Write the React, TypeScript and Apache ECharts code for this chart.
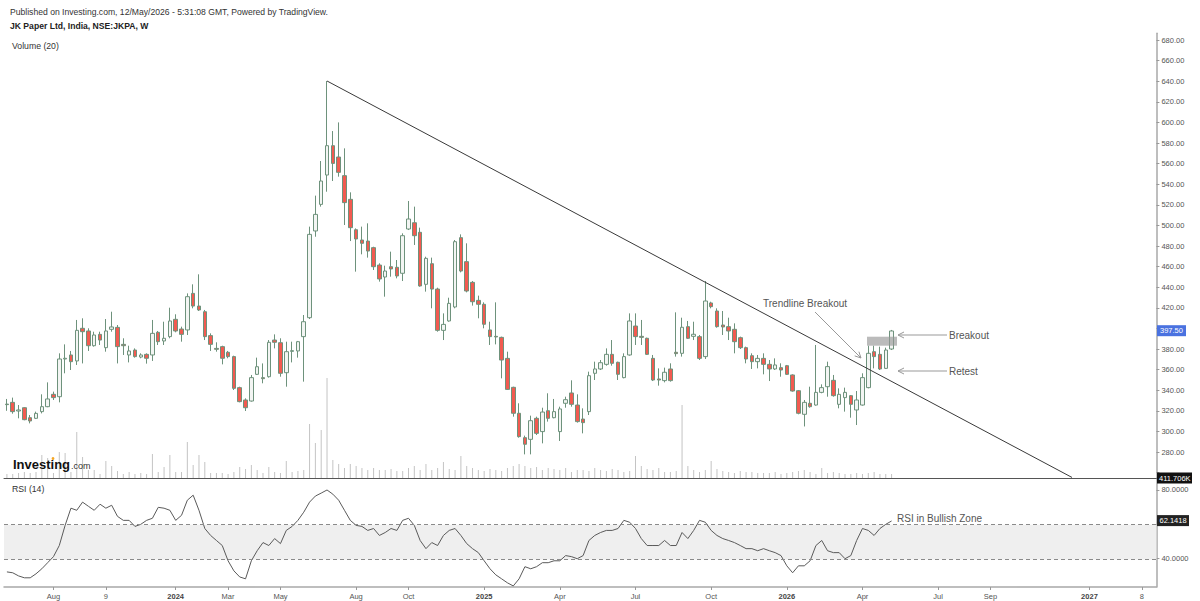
import React, { useEffect, useRef } from 'react';
import * as echarts from 'echarts';

// ---- weekly OHLC (JK Paper, NSE:JKPA) ----
const opens = [326.5,328.2,319.8,323.0,313.3,312.7,319.2,324.0,336.0,333.7,370.3,374.2,368.4,400.1,397.5,383.2,394.2,381.3,399.1,401.0,384.5,374.2,379.0,372.2,374.8,374.2,396.2,387.8,392.0,408.8,399.4,398.5,434.0,421.7,416.2,393.0,380.6,382.3,376.8,372.6,342.5,330.5,329.5,355.4,352.2,353.1,388.7,386.1,357.0,377.7,378.1,392.0,410.4,494.6,520.4,548.9,577.4,566.4,548.3,525.3,495.8,485.8,484.8,478.4,461.5,449.9,459.9,459.3,453.5,496.5,502.6,493.3,442.8,462.8,438.2,398.1,407.2,420.8,488.1,464.8,444.7,427.2,423.4,398.5,392.3,391.3,370.9,342.8,317.6,293.9,292.3,312.7,299.8,320.1,313.3,299.8,327.3,337.3,325.6,312.0,319.2,356.4,360.6,365.1,374.8,367.1,352.2,374.2,402.3,392.3,390.4,370.9,350.9,349.3,360.6,376.8,375.8,401.7,392.3,392.0,372.6,424.7,416.9,403.3,401.7,399.1,391.0,381.3,373.5,367.7,370.9,365.1,360.6,361.9,363.8,354.8,339.5,316.6,327.3,325.6,337.9,343.4,349.6,326.3,332.8,334.7,320.8,325.6,342.5,377.4,374.8,361.2,380.0];
const closes = [326.0,319.2,320.8,311.4,310.1,317.5,324.0,331.5,332.8,370.3,371.0,367.7,398.1,396.8,383.2,393.6,388.7,397.5,401.4,382.3,383.2,378.1,372.6,374.2,371.0,395.2,387.1,390.4,407.2,397.5,394.2,430.8,421.7,417.9,392.0,384.5,379.7,371.0,372.6,341.8,328.9,323.0,352.2,362.8,351.2,386.5,386.5,356.4,377.4,378.4,387.1,406.5,491.3,510.7,543.1,577.4,560.2,551.5,522.1,497.8,486.8,482.6,475.1,459.9,448.0,455.7,457.7,450.9,490.0,506.2,490.0,441.2,468.0,438.2,398.1,403.9,424.3,484.2,455.7,436.3,425.9,423.4,404.0,392.0,391.7,369.3,340.8,317.6,294.9,287.5,310.4,298.1,318.8,312.7,319.2,321.8,330.8,326.3,309.5,308.5,354.1,360.6,366.7,374.8,366.1,355.4,372.6,407.2,392.0,391.3,374.8,349.9,349.9,357.4,349.3,375.5,401.1,390.4,394.3,370.9,426.6,421.1,401.7,401.4,397.5,387.1,381.3,370.3,367.7,370.9,365.1,360.6,364.5,359.6,355.4,339.2,317.6,328.2,324.0,337.9,342.5,362.9,334.7,336.0,337.9,326.3,330.5,352.2,375.8,372.6,360.6,379.0,397.5];
const lows = [320.0,317.2,312.7,310.8,307.8,312.0,317.5,323.5,330.5,328.2,356.4,359.6,364.5,366.0,378.1,382.3,383.9,377.4,396.8,366.0,374.2,367.0,371.6,371.0,365.8,368.4,383.9,383.9,390.4,396.2,387.1,393.6,419.5,416.9,388.7,378.1,377.4,365.1,371.0,340.2,328.2,319.8,328.9,354.8,346.7,352.2,380.6,353.1,343.4,367.0,371.6,348.3,409.1,489.0,518.2,532.7,543.1,547.3,500.4,484.8,455.1,471.9,468.7,456.7,445.4,430.8,450.2,448.6,446.0,495.5,481.0,440.5,435.7,419.5,396.8,388.7,406.5,419.5,454.4,435.0,422.1,409.8,400.1,383.9,384.5,351.5,340.2,314.3,293.9,277.7,277.7,296.5,288.4,309.5,312.7,290.7,323.0,324.0,308.5,298.1,315.9,349.9,359.6,363.8,363.8,349.9,351.5,373.5,383.9,383.9,374.2,348.9,344.4,347.6,348.3,372.6,372.6,389.7,388.7,369.3,370.3,419.5,400.7,393.6,388.7,375.8,380.0,366.1,360.6,361.2,355.4,348.9,359.6,353.1,354.8,338.6,316.6,304.8,323.0,325.0,337.0,333.7,333.7,322.4,319.2,313.3,306.2,325.0,341.8,361.2,359.6,360.6,379.0];
const highs = [331.5,332.8,325.6,323.5,315.9,319.2,336.0,347.6,338.6,375.8,384.5,378.1,408.2,409.8,400.1,396.8,396.8,409.1,416.2,403.3,390.4,383.2,380.6,375.8,375.8,408.2,397.5,406.5,420.1,413.7,401.7,434.0,442.8,452.5,417.9,395.2,386.5,383.2,378.1,373.5,343.4,332.1,354.8,371.6,366.0,388.7,394.2,390.4,387.1,387.1,387.8,413.0,498.8,528.9,562.5,640.2,591.6,600.0,574.8,532.1,497.1,498.8,502.0,479.3,463.2,460.9,474.5,466.4,492.3,523.7,518.2,497.8,469.6,468.7,439.5,414.6,429.8,485.8,491.3,482.6,446.0,431.8,425.3,406.5,425.3,392.0,377.4,343.4,327.3,295.9,315.3,314.3,323.0,337.0,331.5,324.0,333.7,349.6,336.0,322.4,358.0,367.7,369.3,380.6,388.7,367.7,375.8,414.6,414.6,408.2,391.0,374.2,361.2,361.9,366.1,415.6,410.4,407.2,406.5,393.6,446.0,425.9,419.5,416.9,410.4,404.9,392.0,382.3,375.8,374.2,375.8,369.3,370.9,366.1,364.5,355.4,340.2,330.5,343.4,383.9,345.7,367.7,354.8,341.8,342.5,335.3,339.2,356.4,383.2,383.2,382.3,381.3,398.5];
// volume in thousands of shares
const volumesK = [400,400,500,600,500,600,2300,2000,500,2600,2500,600,4600,2100,800,800,400,1700,1200,700,400,600,400,500,400,2400,600,1100,2300,600,600,3600,1300,2300,1600,500,500,500,400,600,1100,900,1300,800,500,1100,600,500,1700,600,700,800,5400,3500,4800,10900,1800,1400,1000,1400,1200,1000,800,1000,800,800,900,700,700,1000,1200,800,1400,800,1000,1600,900,800,2200,1200,1000,800,700,900,800,700,1000,1200,1400,1200,1000,1100,800,1000,900,800,1000,600,800,800,700,1000,800,700,900,800,600,700,2200,1200,900,800,1000,600,600,700,7300,1200,800,600,800,1700,900,700,600,500,700,600,600,500,500,500,600,400,500,600,700,800,600,400,1000,500,600,500,400,400,500,400,500,600,400,400,411.706];
// RSI (14)
const rsiValues = [32.8,32.3,30.5,29.4,29.4,31.7,34.6,38.1,41.6,48.0,59.6,69.5,68.3,73.0,70.6,68.3,71.8,69.5,71.2,64.8,62.5,62.5,59.0,60.2,62.5,63.7,70.0,69.5,68.3,62.5,65.4,74.1,77.0,68.3,57.8,53.8,50.9,48.0,39.2,33.4,29.9,28.8,39.2,45.0,49.7,48.0,52.0,49.1,56.7,59.0,62.5,67.2,73.0,76.5,78.2,80.0,77.6,74.1,68.3,62.5,59.6,59.0,56.7,57.8,53.8,55.5,57.8,56.7,62.5,63.7,59.6,50.9,46.2,49.7,48.0,53.8,56.7,57.8,53.8,49.1,46.2,43.9,39.2,34.6,31.1,28.8,26.5,24.7,28.8,35.8,34.6,35.8,38.1,38.1,39.2,39.2,42.2,41.6,40.4,42.2,50.9,53.8,55.5,56.7,56.7,57.8,62.5,61.4,57.8,52.0,48.0,48.0,48.0,50.9,48.0,48.0,55.5,52.0,56.7,62.5,61.4,56.7,53.8,52.0,50.9,49.7,48.0,46.2,46.2,45.0,46.2,45.0,43.9,42.2,36.3,32.3,36.3,36.3,39.2,48.0,50.9,45.0,43.9,43.9,40.4,42.2,50.9,57.8,56.7,53.8,57.8,60.2,62.1418];

const SLOT_COUNT = 198;
const xTickIndex = [8, 17, 29, 38, 47, 60, 69, 82, 95, 108, 121, 134, 147, 160, 169, 186, 195];
const xTickLabels = ['Aug', '9', '2024', 'Mar', 'May', 'Aug', 'Oct', '2025', 'Apr', 'Jul', 'Oct', '2026', 'Apr', 'Jul', 'Sep', '2027', '8'];

// trendline anchors [slot index, price]
const trendStart = [55, 640.2];
const trendEnd = [183, 255.3];

const FONT = '"Liberation Sans", Arial, sans-serif';
const AX_FS = 7.5;

const App = () => {
  const ref = useRef<HTMLDivElement>(null);
  useEffect(() => {
    const chart = echarts.init(ref.current!, null, { renderer: 'svg' });
    const cats = Array.from({ length: SLOT_COUNT }, (_, i) => String(i));
    const tickMap: Record<number, string> = {};
    xTickIndex.forEach((ix, k) => { tickMap[ix] = xTickLabels[k]; });
    const isTick = (index: number) => tickMap[index] !== undefined;
    const candleData = opens.map((o, i) => [o, closes[i], lows[i], highs[i]]);

    const L = 4, R = 43.6;
    const hiddenX = (gridIndex: number) => ({
      type: 'category', gridIndex, data: cats, show: false, boundaryGap: true,
    });

    const option: any = {
      animation: false,
      backgroundColor: '#ffffff',
      grid: [
        { left: L, right: R, top: 33.3, height: 444.7 },   // 0 price
        { left: L, right: R, top: 40, height: 432.6 },     // 1 price labels
        { left: L, right: R, top: 378, height: 100 },      // 2 volume
        { left: L, right: R, top: 478, height: 109 },      // 3 rsi
        { left: L, right: R, top: 489.9, height: 68.8 },   // 4 rsi labels
      ],
      xAxis: [
        {
          type: 'category', gridIndex: 0, data: cats, boundaryGap: true,
          axisLine: { show: true, lineStyle: { color: '#555', width: 1 } },
          axisTick: { show: false }, axisLabel: { show: false }, splitLine: { show: false },
        },
        hiddenX(1),
        hiddenX(2),
        {
          type: 'category', gridIndex: 3, data: cats, boundaryGap: true,
          axisLine: { show: true, lineStyle: { color: '#a8a8a8', width: 1.5 } },
          axisTick: { show: true, interval: (i: number) => isTick(i), alignWithLabel: true, length: 3, lineStyle: { color: '#999' } },
          axisLabel: {
            show: true, interval: (i: number) => isTick(i), margin: 5,
            fontSize: AX_FS, color: '#555', fontFamily: FONT,
            formatter: (_v: string, i: number) => {
              const t = tickMap[i] || '';
              return /^\d{4}$/.test(t) ? '{b|' + t + '}' : t;
            },
            rich: { b: { fontWeight: 'bold', fontSize: AX_FS, color: '#444', fontFamily: FONT } },
          },
          splitLine: { show: false },
        },
        hiddenX(4),
      ],
      yAxis: [
        {
          type: 'value', gridIndex: 0, position: 'right', min: 254.76, max: 686.5,
          axisLine: { show: true, lineStyle: { color: '#a8a8a8', width: 1.5 } },
          axisTick: { show: false }, axisLabel: { show: false }, splitLine: { show: false },
        },
        {
          type: 'value', gridIndex: 1, position: 'right', min: 260, max: 680, interval: 20,
          axisLine: { show: false },
          axisTick: { show: true, length: 3, lineStyle: { color: '#999' } },
          axisLabel: {
            show: true, margin: 5, fontSize: AX_FS, color: '#555', fontFamily: FONT,
            formatter: (v: number) => (v === 260 ? '' : v.toFixed(2)),
          },
          splitLine: { show: false },
        },
        {
          type: 'value', gridIndex: 2, min: 0, max: 10000, show: false,
        },
        {
          type: 'value', gridIndex: 3, position: 'right', min: 24.1, max: 86.9,
          axisLine: { show: true, lineStyle: { color: '#a8a8a8', width: 1.5 } },
          axisTick: { show: false }, axisLabel: { show: false }, splitLine: { show: false },
        },
        {
          type: 'value', gridIndex: 4, position: 'right', min: 40, max: 80, interval: 20,
          axisLine: { show: false },
          axisTick: { show: true, length: 3, lineStyle: { color: '#999' } },
          axisLabel: {
            show: true, margin: 5, fontSize: AX_FS, color: '#555', fontFamily: FONT,
            formatter: (v: number) => (v === 60 ? '' : v.toFixed(4)),
          },
          splitLine: { show: false },
        },
      ],
      series: [
        {
          type: 'bar', xAxisIndex: 2, yAxisIndex: 2, data: volumesK, barWidth: 1,
          itemStyle: { color: '#c4c4c4' }, silent: true, z: 1,
        },
        {
          type: 'candlestick', xAxisIndex: 0, yAxisIndex: 0, data: candleData, barWidth: 4, z: 3,
          itemStyle: {
            color: '#f3f5f3', color0: '#f25a50',
            borderColor: '#6e927c', borderColor0: '#6e927c', borderWidth: 1,
          },
          markLine: {
            silent: true, symbol: ['none', 'none'], animation: false,
            label: { show: false },
            lineStyle: { color: '#3a3a3a', width: 1, type: 'solid' },
            data: [[{ coord: trendStart }, { coord: trendEnd }]],
          },
        },
        {
          type: 'line', xAxisIndex: 3, yAxisIndex: 3, data: rsiValues, symbol: 'none',
          lineStyle: { color: '#5a5a5a', width: 1 }, z: 3,
          markArea: {
            silent: true, itemStyle: { color: '#efefef' },
            data: [[{ yAxis: 40 }, { yAxis: 60 }]],
          },
          markLine: {
            silent: true, symbol: ['none', 'none'], label: { show: false },
            lineStyle: { color: '#8a8a8a', width: 1, type: [4, 3] },
            data: [{ yAxis: 60 }, { yAxis: 40 }],
          },
        },
      ],
      graphic: [
        { type: 'text', x: 10, y: 12, style: { text: 'Published on Investing.com, 12/May/2026 - 5:31:08 GMT, Powered by TradingView.', font: '8.6px ' + FONT, fill: '#333', verticalAlign: 'middle' } },
        { type: 'text', x: 10, y: 26, style: { text: 'JK Paper Ltd, India, NSE:JKPA, W', font: 'bold 8.6px ' + FONT, fill: '#222', verticalAlign: 'middle' } },
        { type: 'text', x: 12, y: 46, style: { text: 'Volume (20)', font: '8.7px ' + FONT, fill: '#333', verticalAlign: 'middle' } },
        { type: 'text', x: 12, y: 489, style: { text: 'RSI (14)', font: '8.7px ' + FONT, fill: '#333', verticalAlign: 'middle' } },
        // Investing logo
        { type: 'text', x: 13, y: 464, z: 10, style: { text: 'Investing', font: 'bold 13px ' + FONT, fill: '#111', verticalAlign: 'middle' } },
        { type: 'text', x: 71, y: 466, z: 10, style: { text: '.com', font: '9px ' + FONT, fill: '#333', verticalAlign: 'middle' } },
        { type: 'circle', z: 11, shape: { cx: 53, cy: 458.5, r: 1.4 }, style: { fill: '#f5a623' } },
        // annotations
        { type: 'rect', z: 10, shape: { x: 867, y: 336.7, width: 30, height: 9 }, style: { fill: 'rgba(150,150,150,0.65)' } },
        { type: 'text', x: 763, y: 303, z: 10, style: { text: 'Trendline Breakout', font: '10px ' + FONT, fill: '#555', verticalAlign: 'middle' } },
        { type: 'line', z: 10, shape: { x1: 815, y1: 312, x2: 861, y2: 358 }, style: { stroke: '#999', lineWidth: 1 } },
        { type: 'polyline', z: 10, shape: { points: [[854.7, 355.9], [861, 358], [858.9, 351.7]] }, style: { stroke: '#999', lineWidth: 1, fill: null } },
        { type: 'text', x: 949, y: 335, z: 10, style: { text: 'Breakout', font: '10px ' + FONT, fill: '#555', verticalAlign: 'middle' } },
        { type: 'line', z: 10, shape: { x1: 947, y1: 335, x2: 898, y2: 335 }, style: { stroke: '#999', lineWidth: 1 } },
        { type: 'polyline', z: 10, shape: { points: [[904, 332], [898, 335], [904, 338]] }, style: { stroke: '#999', lineWidth: 1, fill: null } },
        { type: 'text', x: 949, y: 371, z: 10, style: { text: 'Retest', font: '10px ' + FONT, fill: '#555', verticalAlign: 'middle' } },
        { type: 'line', z: 10, shape: { x1: 947, y1: 371, x2: 898, y2: 371 }, style: { stroke: '#999', lineWidth: 1 } },
        { type: 'polyline', z: 10, shape: { points: [[904, 368], [898, 371], [904, 374]] }, style: { stroke: '#999', lineWidth: 1, fill: null } },
        { type: 'text', x: 897, y: 518, z: 10, style: { text: 'RSI in Bullish Zone', font: '10px ' + FONT, fill: '#555', verticalAlign: 'middle' } },
        // last value badges
        { type: 'rect', z: 20, shape: { x: 1157, y: 325.2, width: 29, height: 11 }, style: { fill: '#4a72e0' } },
        { type: 'text', x: 1160, y: 330.7, z: 21, style: { text: '397.50', font: AX_FS + 'px ' + FONT, fill: '#fff', verticalAlign: 'middle' } },
        { type: 'rect', z: 20, shape: { x: 1157, y: 472.5, width: 35, height: 11 }, style: { fill: '#111' } },
        { type: 'text', x: 1159, y: 478, z: 21, style: { text: '411.706K', font: AX_FS + 'px ' + FONT, fill: '#fff', verticalAlign: 'middle' } },
        { type: 'rect', z: 20, shape: { x: 1157, y: 515.1, width: 32, height: 11 }, style: { fill: '#222' } },
        { type: 'text', x: 1159.5, y: 520.6, z: 21, style: { text: '62.1418', font: AX_FS + 'px ' + FONT, fill: '#fff', verticalAlign: 'middle' } },
      ],
    };
    chart.setOption(option);
    return () => chart.dispose();
  }, []);
  return <div ref={ref} style={{ position: 'absolute', left: 0, top: 0, width: 1200, height: 601, background: '#fff' }} />;
};

export default App;
